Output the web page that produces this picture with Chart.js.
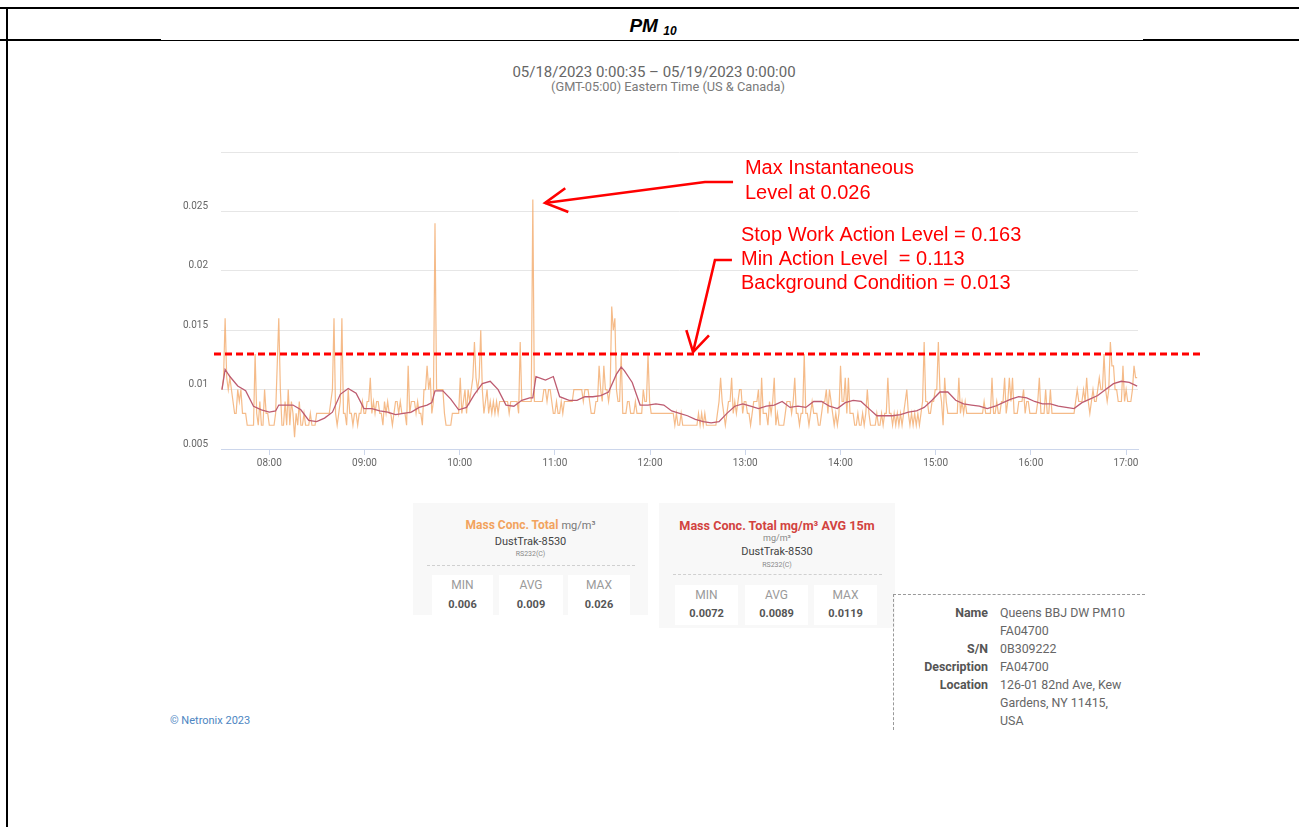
<!DOCTYPE html>
<html>
<head>
<meta charset="utf-8">
<title>PM10</title>
<script src="https://cdn.jsdelivr.net/npm/chart.js@4.4.0/dist/chart.umd.min.js"></script>
<style>
  html, body { margin: 0; padding: 0; background: #fff; }
  body { width: 1299px; height: 827px; position: relative; overflow: hidden; font-family: Roboto, "Liberation Sans", Arial, sans-serif; }
  .abs { position: absolute; }
  .negro { background: #000; }
  .caja { position: absolute; background: #f8f8f8; }
  .caja .c { position: absolute; left: 0; right: 0; text-align: center; white-space: nowrap; }
  .celda { position: absolute; background: #fff; height: 40px; }
  .celda .lab { position: absolute; left: 0; right: 0; text-align: center; font-size: 12px; color: #9a9a9a; }
  .celda .val { position: absolute; left: 0; right: 0; text-align: center; font-size: 11px; font-weight: bold; color: #555; }
  .guion { position: absolute; border-top: 1px dashed #d0d0d0; height: 0; }
  .info { position: absolute; font-size: 12.4px; line-height: 18px; }
  .info .k { position: absolute; right: 0; font-weight: bold; color: #555; white-space: nowrap; }
  .info .v { position: absolute; left: 0; color: #666; white-space: nowrap; }
</style>
</head>
<body>
<!-- bordes de la tabla -->
<div class="abs negro" style="left:0;top:7px;width:1299px;height:2px"></div>
<div class="abs negro" style="left:6px;top:7px;width:2px;height:820px"></div>
<div class="abs negro" style="left:0;top:40px;width:1299px;height:1px"></div>
<div class="abs negro" style="left:0;top:39px;width:161px;height:2px"></div>
<div class="abs negro" style="left:1143px;top:39px;width:156px;height:2px"></div>

<div class="abs" style="left:553px;top:15px;width:200px;text-align:center;font:italic bold 19px 'Liberation Sans',Arial,sans-serif;color:#000">PM <span style="font-size:12px;position:relative;top:3px">10</span></div>

<div class="abs" style="left:404px;top:63px;width:500px;text-align:center;font-size:15px;color:#666">05/18/2023 0:00:35 – 05/19/2023 0:00:00</div>
<div class="abs" style="left:468px;top:79px;width:400px;text-align:center;font-size:12.8px;color:#7a7a7a">(GMT-05:00) Eastern Time (US &amp; Canada)</div>

<div class="abs" style="left:160px;top:133px;width:1060px;height:343px">
  <canvas id="graficaPM" width="1060" height="343"></canvas>
</div>

<!-- caja 1 -->
<div class="caja" style="left:413px;top:503px;width:235px;height:112px">
  <div class="c" style="top:15px;font-size:12px"><b style="color:#f2a35e">Mass Conc. Total</b> <span style="color:#777;font-size:11px">mg/m³</span></div>
  <div class="c" style="top:32px;font-size:11px;color:#444">DustTrak-8530</div>
  <div class="c" style="top:47px;font-size:7px;color:#888">RS232(C)</div>
  <div class="guion" style="left:14px;top:62px;width:208px"></div>
  <div class="celda" style="left:19px;top:72px;width:61px"><div class="lab" style="top:3px">MIN</div><div class="val" style="top:23px">0.006</div></div>
  <div class="celda" style="left:86px;top:72px;width:64px"><div class="lab" style="top:3px">AVG</div><div class="val" style="top:23px">0.009</div></div>
  <div class="celda" style="left:155px;top:72px;width:62px"><div class="lab" style="top:3px">MAX</div><div class="val" style="top:23px">0.026</div></div>
</div>

<!-- caja 2 -->
<div class="caja" style="left:659px;top:503px;width:236px;height:125px">
  <div class="c" style="top:15px;font-size:12.6px"><b style="color:#d2433f">Mass Conc. Total mg/m³ AVG 15m</b></div>
  <div class="c" style="top:30px;font-size:9px;color:#888">mg/m³</div>
  <div class="c" style="top:42px;font-size:11px;color:#444">DustTrak-8530</div>
  <div class="c" style="top:58px;font-size:7px;color:#888">RS232(C)</div>
  <div class="guion" style="left:14px;top:71px;width:209px"></div>
  <div class="celda" style="left:16px;top:82px;width:63px"><div class="lab" style="top:3px">MIN</div><div class="val" style="top:22px">0.0072</div></div>
  <div class="celda" style="left:86px;top:82px;width:63px"><div class="lab" style="top:3px">AVG</div><div class="val" style="top:22px">0.0089</div></div>
  <div class="celda" style="left:155px;top:82px;width:63px"><div class="lab" style="top:3px">MAX</div><div class="val" style="top:22px">0.0119</div></div>
</div>

<!-- ficha del equipo -->
<div class="abs" style="left:893px;top:594px;width:252px;height:0;border-top:1px dashed #999"></div>
<div class="abs" style="left:893px;top:594px;width:0;height:136px;border-left:1px dashed #999"></div>
<div class="info" style="left:893px;top:604px;width:95px;height:130px">
  <div class="k" style="top:0">Name</div>
  <div class="k" style="top:36px">S/N</div>
  <div class="k" style="top:54px">Description</div>
  <div class="k" style="top:72px">Location</div>
</div>
<div class="info" style="left:1000px;top:604px;width:170px;height:130px">
  <div class="v" style="top:0">Queens BBJ DW PM10</div>
  <div class="v" style="top:18px">FA04700</div>
  <div class="v" style="top:36px">0B309222</div>
  <div class="v" style="top:54px">FA04700</div>
  <div class="v" style="top:72px">126-01 82nd Ave, Kew</div>
  <div class="v" style="top:90px">Gardens, NY 11415,</div>
  <div class="v" style="top:108px">USA</div>
</div>

<div class="abs" style="left:170px;top:714px;font-size:11px;color:#4d86c2">© Netronix 2023</div>

<script>
// datos (mg/m3), una muestra por minuto aprox.
const sampleStart = 450.16;   // minutos desde medianoche (07:30)
const sampleStep = 0.9946;    // minutos entre muestras
const massConc = [
  0.010, 0.011, 0.016, 0.011, 0.010, 0.011, 0.010, 0.009, 0.008, 0.008,
  0.010, 0.009, 0.010, 0.008, 0.008, 0.008, 0.007, 0.007, 0.007, 0.007,
  0.007, 0.013, 0.008, 0.007, 0.009, 0.007, 0.007, 0.010, 0.008, 0.008,
  0.007, 0.007, 0.007, 0.007, 0.008, 0.012, 0.016, 0.010, 0.007, 0.007,
  0.009, 0.007, 0.010, 0.007, 0.009, 0.008, 0.006, 0.008, 0.007, 0.009,
  0.007, 0.007, 0.008, 0.007, 0.007, 0.007, 0.008, 0.007, 0.007, 0.007,
  0.008, 0.008, 0.008, 0.008, 0.008, 0.008, 0.008, 0.008, 0.008, 0.009,
  0.010, 0.016, 0.008, 0.007, 0.008, 0.009, 0.016, 0.008, 0.008, 0.007,
  0.010, 0.008, 0.008, 0.007, 0.008, 0.008, 0.007, 0.008, 0.008, 0.009,
  0.008, 0.008, 0.009, 0.009, 0.011, 0.008, 0.009, 0.008, 0.009, 0.009,
  0.008, 0.008, 0.007, 0.009, 0.008, 0.009, 0.008, 0.008, 0.007, 0.008,
  0.009, 0.009, 0.008, 0.009, 0.008, 0.008, 0.008, 0.007, 0.012, 0.008,
  0.009, 0.009, 0.009, 0.008, 0.009, 0.008, 0.008, 0.007, 0.010, 0.010,
  0.012, 0.010, 0.011, 0.008, 0.009, 0.024, 0.010, 0.010, 0.010, 0.010,
  0.010, 0.008, 0.007, 0.007, 0.007, 0.007, 0.008, 0.008, 0.008, 0.008,
  0.008, 0.011, 0.008, 0.009, 0.010, 0.008, 0.010, 0.009, 0.010, 0.011,
  0.014, 0.011, 0.010, 0.011, 0.015, 0.010, 0.008, 0.009, 0.010, 0.008,
  0.009, 0.008, 0.009, 0.008, 0.009, 0.008, 0.009, 0.009, 0.009, 0.009,
  0.009, 0.009, 0.008, 0.009, 0.009, 0.009, 0.009, 0.009, 0.008, 0.014,
  0.009, 0.009, 0.009, 0.009, 0.009, 0.009, 0.009, 0.026, 0.009, 0.009,
  0.009, 0.009, 0.009, 0.009, 0.010, 0.010, 0.009, 0.010, 0.010, 0.009,
  0.008, 0.008, 0.009, 0.008, 0.008, 0.009, 0.008, 0.009, 0.009, 0.009,
  0.009, 0.009, 0.009, 0.010, 0.010, 0.010, 0.010, 0.010, 0.010, 0.009,
  0.010, 0.010, 0.010, 0.009, 0.008, 0.008, 0.008, 0.009, 0.009, 0.012,
  0.010, 0.009, 0.012, 0.010, 0.010, 0.009, 0.010, 0.017, 0.015, 0.016,
  0.010, 0.009, 0.009, 0.013, 0.008, 0.008, 0.008, 0.009, 0.009, 0.008,
  0.008, 0.008, 0.009, 0.008, 0.008, 0.008, 0.008, 0.010, 0.009, 0.009,
  0.013, 0.009, 0.008, 0.008, 0.008, 0.008, 0.008, 0.008, 0.008, 0.008,
  0.008, 0.008, 0.008, 0.008, 0.008, 0.008, 0.008, 0.007, 0.008, 0.007,
  0.007, 0.008, 0.007, 0.007, 0.007, 0.007, 0.007, 0.007, 0.007, 0.007,
  0.007, 0.007, 0.008, 0.007, 0.008, 0.007, 0.008, 0.007, 0.007, 0.007,
  0.007, 0.007, 0.007, 0.007, 0.008, 0.009, 0.011, 0.009, 0.008, 0.007,
  0.008, 0.009, 0.009, 0.011, 0.008, 0.009, 0.008, 0.009, 0.010, 0.010,
  0.008, 0.009, 0.009, 0.008, 0.008, 0.007, 0.008, 0.009, 0.009, 0.009,
  0.010, 0.007, 0.011, 0.008, 0.008, 0.008, 0.007, 0.009, 0.008, 0.009,
  0.011, 0.007, 0.008, 0.007, 0.007, 0.007, 0.007, 0.008, 0.009, 0.009,
  0.009, 0.008, 0.009, 0.011, 0.008, 0.008, 0.007, 0.008, 0.008, 0.013,
  0.008, 0.008, 0.007, 0.008, 0.009, 0.008, 0.008, 0.008, 0.007, 0.007,
  0.008, 0.009, 0.009, 0.010, 0.008, 0.010, 0.009, 0.008, 0.007, 0.008,
  0.007, 0.008, 0.012, 0.009, 0.009, 0.011, 0.008, 0.011, 0.008, 0.008,
  0.008, 0.007, 0.007, 0.008, 0.007, 0.007, 0.008, 0.007, 0.008, 0.010,
  0.008, 0.007, 0.007, 0.007, 0.007, 0.008, 0.007, 0.007, 0.008, 0.007,
  0.008, 0.008, 0.011, 0.008, 0.008, 0.007, 0.008, 0.007, 0.008, 0.007,
  0.008, 0.007, 0.008, 0.009, 0.010, 0.008, 0.007, 0.008, 0.007, 0.008,
  0.007, 0.008, 0.007, 0.008, 0.009, 0.014, 0.009, 0.009, 0.008, 0.008,
  0.009, 0.009, 0.010, 0.010, 0.014, 0.010, 0.009, 0.007, 0.011, 0.009,
  0.008, 0.008, 0.008, 0.008, 0.008, 0.008, 0.008, 0.011, 0.008, 0.009,
  0.008, 0.009, 0.008, 0.008, 0.008, 0.008, 0.008, 0.008, 0.008, 0.008,
  0.008, 0.008, 0.008, 0.009, 0.008, 0.008, 0.008, 0.008, 0.011, 0.008,
  0.008, 0.009, 0.008, 0.008, 0.009, 0.009, 0.011, 0.008, 0.009, 0.011,
  0.009, 0.011, 0.008, 0.008, 0.008, 0.009, 0.009, 0.009, 0.010, 0.008,
  0.009, 0.009, 0.008, 0.008, 0.008, 0.008, 0.008, 0.009, 0.011, 0.008,
  0.008, 0.008, 0.010, 0.008, 0.008, 0.010, 0.008, 0.008, 0.008, 0.008,
  0.008, 0.008, 0.008, 0.008, 0.008, 0.008, 0.008, 0.008, 0.008, 0.008,
  0.008, 0.009, 0.010, 0.009, 0.009, 0.009, 0.010, 0.009, 0.011, 0.009,
  0.008, 0.009, 0.010, 0.009, 0.009, 0.010, 0.011, 0.010, 0.010, 0.013,
  0.010, 0.009, 0.010, 0.014, 0.012, 0.012, 0.010, 0.010, 0.009, 0.009,
  0.009, 0.012, 0.009, 0.010, 0.009, 0.009, 0.009, 0.010, 0.012, 0.011, 0.011
];
// promedio de 15 minutos, leido cada ~5 muestras (indice de muestra)
const avgSampleIdx = [0, 2, 5, 10, 15, 20, 25, 30, 34, 36, 40, 45, 50, 55, 60, 65, 70, 75, 80, 85,
  90, 95, 100, 105, 110, 115, 120, 125, 130, 133, 135, 140, 145, 150, 155, 160, 165, 170, 175, 180,
  185, 190, 195, 197, 199, 205, 210, 214, 220, 225, 230, 235, 240, 245, 250, 253, 255, 260, 265, 270,
  275, 280, 285, 290, 295, 300, 305, 310, 315, 320, 325, 330, 335, 340, 345, 350, 355, 360, 365, 370,
  375, 380, 385, 390, 395, 400, 405, 410, 415, 420, 425, 430, 435, 440, 445, 450, 455, 460, 465, 470,
  475, 480, 485, 490, 495, 500, 505, 510, 515, 520, 525, 530, 535, 540, 545, 550, 555, 560, 565, 570,
  575, 580];
const massConcAvg15 = [0.0100, 0.0117, 0.0111, 0.0103, 0.0099, 0.0086, 0.0083, 0.0081, 0.0082, 0.0087,
  0.0087, 0.0087, 0.0083, 0.0074, 0.0073, 0.0076, 0.0081, 0.0096, 0.0101, 0.0097,
  0.0084, 0.0084, 0.0082, 0.0081, 0.0079, 0.0080, 0.0081, 0.0085, 0.0087, 0.0089,
  0.0099, 0.0099, 0.0092, 0.0083, 0.0085, 0.0096, 0.0105, 0.0107, 0.0100, 0.0087,
  0.0086, 0.0091, 0.0093, 0.0093, 0.0111, 0.0108, 0.0111, 0.0094, 0.0091, 0.0091,
  0.0094, 0.0094, 0.0095, 0.0098, 0.0113, 0.0119, 0.0116, 0.0106, 0.0087, 0.0087,
  0.0088, 0.0087, 0.0082, 0.0080, 0.0078, 0.0075, 0.0073, 0.0072, 0.0073, 0.0080,
  0.0086, 0.0088, 0.0086, 0.0084, 0.0086, 0.0087, 0.0090, 0.0085, 0.0086, 0.0085,
  0.0090, 0.0090, 0.0086, 0.0084, 0.0089, 0.0091, 0.0090, 0.0084, 0.0078, 0.0078,
  0.0078, 0.0079, 0.0081, 0.0082, 0.0085, 0.0091, 0.0098, 0.0098, 0.0091, 0.0088,
  0.0087, 0.0086, 0.0084, 0.0086, 0.0089, 0.0092, 0.0094, 0.0093, 0.0090, 0.0088,
  0.0088, 0.0086, 0.0085, 0.0084, 0.0089, 0.0092, 0.0095, 0.0100, 0.0105, 0.0107,
  0.0106, 0.0103];

const hourTicks = [480, 540, 600, 660, 720, 780, 840, 900, 960, 1020];
const hourLabels = ['08:00', '09:00', '10:00', '11:00', '12:00', '13:00', '14:00', '15:00', '16:00', '17:00'];
const yGrid = [0.005, 0.01, 0.015, 0.02, 0.025, 0.03];
const yLabels = ['0.005', '0.01', '0.015', '0.02', '0.025', ''];

const backgroundLevel = 0.013;
// notas en rojo, en coordenadas de la grafica (minutos, mg/m3)
const notaMax = { texto: ['Max Instantaneous', 'Level at 0.026'], xTexto: 779.8, yTexto: [0.02865, 0.02655],
  flecha: [[653.8, 0.02571], [754.6, 0.02747], [772.3, 0.02747]] };
const notaFondo = { texto: ['Stop Work Action Level = 0.163', 'Min Action Level  = 0.113', 'Background Condition = 0.013'],
  xTexto: 777.3, yTexto: [0.02301, 0.02099, 0.01897],
  flecha: [[747.1, 0.01316], [760.9, 0.02091], [771.6, 0.02091]] };

function flecha(ctx, pts, largo, ang) {
  ctx.beginPath();
  ctx.moveTo(pts[0][0], pts[0][1]);
  for (const p of pts.slice(1)) ctx.lineTo(p[0], p[1]);
  ctx.stroke();
  const [tx, ty] = pts[0];
  const a = Math.atan2(pts[1][1] - ty, pts[1][0] - tx);
  ctx.beginPath();
  ctx.moveTo(tx + largo * Math.cos(a + ang), ty + largo * Math.sin(a + ang));
  ctx.lineTo(tx, ty);
  ctx.lineTo(tx + largo * Math.cos(a - ang), ty + largo * Math.sin(a - ang));
  ctx.stroke();
}

const notas = {
  id: 'notas',
  afterDraw(chart) {
    const { ctx, chartArea, scales: { x, y } } = chart;
    const px = p => [x.getPixelForValue(p[0]), y.getPixelForValue(p[1])];
    ctx.save();
    ctx.strokeStyle = '#ff0000';
    ctx.fillStyle = '#ff0000';
    // linea de condicion de fondo
    const yb = y.getPixelForValue(backgroundLevel);
    ctx.lineWidth = 3;
    ctx.setLineDash([7, 4]);
    ctx.beginPath();
    ctx.moveTo(chartArea.left - 7, yb);
    ctx.lineTo(chartArea.right + 63, yb);
    ctx.stroke();
    ctx.setLineDash([]);
    ctx.lineWidth = 2.6;
    flecha(ctx, notaMax.flecha.map(px), 25, 0.5);
    flecha(ctx, notaFondo.flecha.map(px), 23, 0.53);
    ctx.font = '20px "Liberation Sans", Arial, sans-serif';
    ctx.textBaseline = 'middle';
    for (const n of [notaMax, notaFondo]) {
      n.texto.forEach((t, i) => ctx.fillText(t, x.getPixelForValue(n.xTexto), y.getPixelForValue(n.yTexto[i])));
    }
    ctx.restore();
  }
};

Chart.defaults.font.family = 'Roboto, "Liberation Sans", Arial, sans-serif';

const graficaPM = new Chart(document.getElementById('graficaPM'), {
  type: 'line',
  data: {
    datasets: [{
      label: 'Mass Conc. Total mg/m³ AVG 15m',
      data: avgSampleIdx.map((k, i) => ({ x: sampleStart + k * sampleStep, y: massConcAvg15[i] })),
      borderColor: '#bd5b70',
      borderWidth: 1.3,
      pointRadius: 0,
      order: 0
    }, {
      label: 'Mass Conc. Total',
      data: massConc.map((v, i) => ({ x: sampleStart + i * sampleStep, y: v })),
      borderColor: 'rgba(242, 170, 108, 0.8)',
      borderWidth: 1.2,
      pointRadius: 0,
      order: 1
    }]
  },
  options: {
    responsive: false,
    animation: false,
    layout: { padding: { top: 5, right: 82, left: 0, bottom: 0 } },
    plugins: { legend: { display: false }, tooltip: { enabled: false } },
    scales: {
      x: {
        type: 'linear',
        min: 449.55,
        max: 1027.55,
        afterBuildTicks: s => { s.ticks = hourTicks.map(v => ({ value: v })); },
        afterFit: s => { s.height = 27; },
        grid: { drawOnChartArea: false, drawTicks: true, tickLength: 6, color: '#ccd6eb' },
        border: { color: '#ccd6eb' },
        ticks: { callback: (v, i) => hourLabels[i], autoSkip: false, maxRotation: 0, padding: 2, color: '#666', font: { size: 10 } }
      },
      y: {
        min: 0.005,
        max: 0.03,
        afterBuildTicks: s => { s.ticks = yGrid.map(v => ({ value: v })); },
        afterFit: s => { s.width = 61; },
        grid: { color: '#e6e6e6', drawTicks: false },
        border: { display: false },
        ticks: { callback: (v, i) => yLabels[i], padding: 13, labelOffset: -5, color: '#666', font: { size: 10 } }
      }
    }
  },
  plugins: [notas]
});
</script>
</body>
</html>
